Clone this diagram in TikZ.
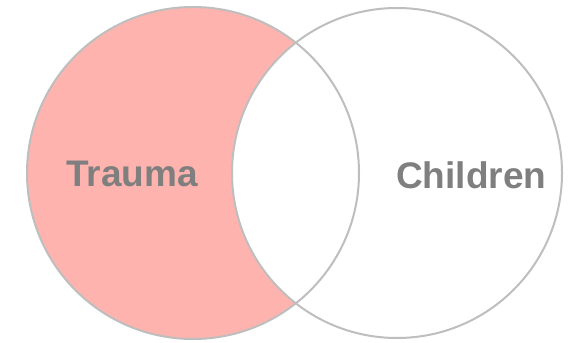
\documentclass[tikz,border=0pt]{standalone}
\usepackage{fontspec}
\setmainfont{Liberation Sans}
\usepackage{tikz}
\usetikzlibrary{arrows}
\definecolor{traumafill}{RGB}{255,179,174}
\definecolor{ringgray}{RGB}{190,190,190}
\definecolor{labelgray}{RGB}{127,127,127}

\begin{document}
\begin{tikzpicture}[line cap=round,line join=round,x=1pt,y=1pt,
  ring/.style={draw=ringgray,line width=2pt},
  setlabel/.style={text=labelgray,font=\fontsize{37}{40}\selectfont\bfseries,inner sep=0pt}]
\useasboundingbox (0,0) rectangle (577,342);
\fill [traumafill] (193,169) circle (166);
\fill [white] (397,169) circle (165);
\draw [ring] (193,169) circle (166);
\draw [ring] (397,169) circle (165);
\node [setlabel,anchor=base west] (trauma) at (66,155) {Trauma};
\node [setlabel,anchor=base west] (children) at (396,153) {Children};
\end{tikzpicture}
\end{document}
